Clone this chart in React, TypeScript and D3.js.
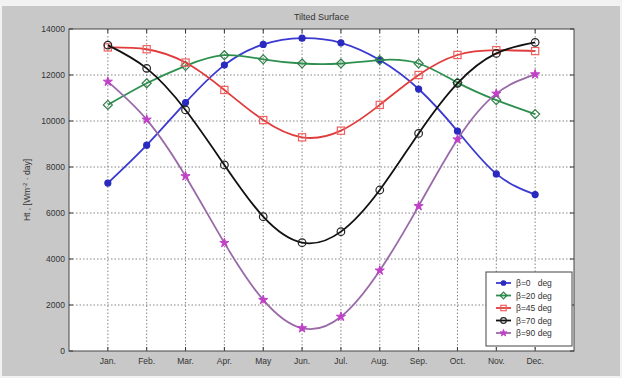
import React from "react";
import * as d3 from "d3";

const months = ["Jan.", "Feb.", "Mar.", "Apr.", "May", "Jun.", "Jul.", "Aug.", "Sep.", "Oct.", "Nov.", "Dec."];
const yTicks = [0, 2000, 4000, 6000, 8000, 10000, 12000, 14000];
const beta0 = [7300, 8950, 10800, 12430, 13330, 13600, 13400, 12650, 11390, 9560, 7700, 6800];
const beta20 = [10700, 11640, 12400, 12860, 12680, 12500, 12500, 12650, 12500, 11670, 10910, 10300];
const beta45 = [13200, 13120, 12540, 11350, 10040, 9290, 9580, 10700, 12000, 12870, 13080, 13040];
const beta70 = [13300, 12290, 10480, 8090, 5840, 4710, 5190, 7000, 9460, 11640, 12940, 13420];
const beta90 = [11710, 10060, 7600, 4700, 2220, 990, 1490, 3500, 6300, 9200, 11190, 12030];
const seriesNames = ["β=0   deg", "β=20 deg", "β=45 deg", "β=70 deg", "β=90 deg"];

const W = 622, H = 378;
const L = 69, R = 574, T = 29, B = 351;

type S = { name: string; values: number[]; line: string; marker: string; fill: string; shape: string };
const series: S[] = [
  { name: seriesNames[0], values: beta0, line: "#3a3ad0", marker: "#2a2ac0", fill: "#2a2ac0", shape: "circle" },
  { name: seriesNames[1], values: beta20, line: "#2e9050", marker: "#2e8048", fill: "none", shape: "diamond" },
  { name: seriesNames[2], values: beta45, line: "#e03c3c", marker: "#f06060", fill: "none", shape: "square" },
  { name: seriesNames[3], values: beta70, line: "#111111", marker: "#222222", fill: "none", shape: "circle" },
  { name: seriesNames[4], values: beta90, line: "#9a6aa8", marker: "#c040c8", fill: "#c040c8", shape: "star" },
];

function Marker({ s, x, y, k }: { s: S; x: number; y: number; k: number }) {
  const sw = 1.2;
  if (s.shape === "circle") return <circle cx={x} cy={y} r={(s.fill === "none" ? 3.8 : 3) * k} fill={s.fill} stroke={s.marker} strokeWidth={sw} />;
  if (s.shape === "square") return <rect x={x - 3.6 * k} y={y - 3.6 * k} width={7.2 * k} height={7.2 * k} fill={s.fill} stroke={s.marker} strokeWidth={sw} />;
  if (s.shape === "diamond") { const r = 4.5 * k; return <path d={`M${x},${y - r}L${x + r},${y}L${x},${y + r}L${x - r},${y}Z`} fill={s.fill} stroke={s.marker} strokeWidth={sw} />; }
  const p = d3.symbol().type(d3.symbolStar).size(26 * k * k)();
  return <path d={p || ""} transform={`translate(${x},${y})`} fill={s.fill} stroke={s.marker} strokeWidth={1} />;
}

export default function App() {
  const x = d3.scaleLinear().domain([0, 13]).range([L, R]);
  const y = d3.scaleLinear().domain([0, 14000]).range([B, T]);
  const line = d3.line<number>().x((_, i) => x(i + 1)).y((v) => y(v)).curve(d3.curveNatural);
  const font = "Liberation Sans, Arial, sans-serif";
  const lx = 486, ly = 272, lw = 86, lh = 74;
  return (
    <svg width={W} height={H} style={{ position: "fixed", left: 0, top: 0 }} fontFamily={font}>
      <rect x={0} y={0} width={W} height={H} fill="#f2f2f2" />
      <rect x={2} y={6} width={W - 4} height={H - 8} fill="#c8c8c8" />
      <rect x={L} y={T} width={R - L} height={B - T} fill="#ffffff" />
      {months.map((m, i) => (
        <line key={"gx" + i} x1={x(i + 1)} x2={x(i + 1)} y1={T} y2={B} stroke="#666" strokeWidth={0.8} strokeDasharray="1.5,2" />
      ))}
      {yTicks.slice(1, -1).map((t) => (
        <line key={"gy" + t} x1={L} x2={R} y1={y(t)} y2={y(t)} stroke="#666" strokeWidth={0.8} strokeDasharray="1.5,2" />
      ))}
      {months.map((m, i) => (
        <g key={"tx" + i}>
          <line x1={x(i + 1)} x2={x(i + 1)} y1={B} y2={B - 4} stroke="#333" />
          <line x1={x(i + 1)} x2={x(i + 1)} y1={T} y2={T + 4} stroke="#333" />
          <text x={x(i + 1)} y={B + 13} fontSize={8.5} textAnchor="middle" fill="#333">{m}</text>
        </g>
      ))}
      {yTicks.map((t) => (
        <g key={"ty" + t}>
          <line x1={L} x2={L + 4} y1={y(t)} y2={y(t)} stroke="#333" />
          <line x1={R} x2={R - 4} y1={y(t)} y2={y(t)} stroke="#333" />
          <text x={L - 4} y={y(t) + 3} fontSize={8.5} textAnchor="end" fill="#333">{t}</text>
        </g>
      ))}
      <rect x={L} y={T} width={R - L} height={B - T} fill="none" stroke="#444" strokeWidth={1} />
      <text x={(L + R) / 2} y={20} fontSize={9} textAnchor="middle" fill="#333">Tilted Surface</text>
      <text transform={`translate(30,${(T + B) / 2}) rotate(-90)`} fontSize={8.5} textAnchor="middle" fill="#333">
        Ht , [Wm<tspan dy={-3} fontSize={6}>-2</tspan><tspan dy={3}> · day]</tspan>
      </text>
      {series.map((s, k) => (
        <g key={"s" + k}>
          <path d={line(s.values) || ""} fill="none" stroke={s.line} strokeWidth={1.8} />
          {s.values.map((v, i) => <Marker key={i} s={s} x={x(i + 1)} y={y(v)} k={1} />)}
        </g>
      ))}
      <rect x={lx} y={ly} width={lw} height={lh} fill="#fff" stroke="#444" strokeWidth={1} />
      {series.map((s, k) => {
        const yy = ly + 11 + k * 12.5;
        return (
          <g key={"l" + k}>
            <line x1={lx + 10} x2={lx + 25} y1={yy} y2={yy} stroke={s.line} strokeWidth={1.8} />
            <Marker s={s} x={lx + 17.5} y={yy} k={0.75} />
            <text x={lx + 30} y={yy + 3} fontSize={8.5} fill="#333" style={{ whiteSpace: "pre" }}>{s.name}</text>
          </g>
        );
      })}
    </svg>
  );
}
